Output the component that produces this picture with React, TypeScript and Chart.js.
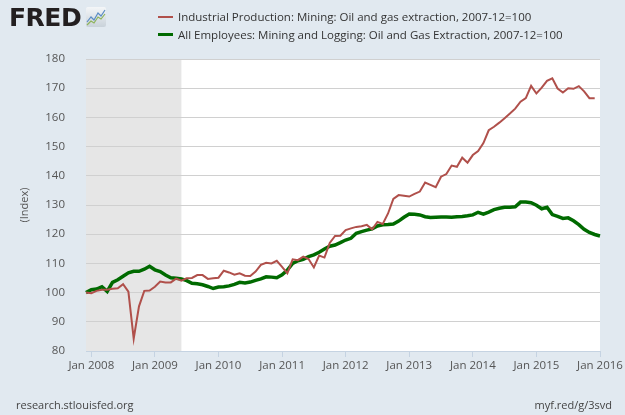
import React, { useEffect, useRef } from "react";
import { Chart, registerables } from "chart.js";

Chart.register(...registerables);

// ---- data ----
const startYear = 2007;
const startMonth = 12; // Dec 2007
const monthCount = 98; // Dec 2007 .. Jan 2016
const monthNames = ["Jan", "Feb", "Mar", "Apr", "May", "Jun", "Jul", "Aug", "Sep", "Oct", "Nov", "Dec"];

const months: string[] = [];
for (let i = 0; i < monthCount; i++) {
  const m0 = startMonth - 1 + i;
  const y = startYear + Math.floor(m0 / 12);
  const m = (m0 % 12) + 1;
  months.push(`${y}-${String(m).padStart(2, "0")}`);
}

const industrialProduction: (number | null)[] = [
  100.0,
  99.8, 100.6, 101.0, 101.0, 101.3, 101.5, 102.9, 100.3, 84.2, 95.3, 100.6, 100.7,
  102.0, 103.8, 103.5, 103.5, 104.8, 104.1, 104.9, 105.0, 106.0, 106.0, 104.7, 104.9,
  105.1, 107.5, 106.9, 106.1, 106.6, 105.8, 105.7, 107.2, 109.5, 110.2, 110.0, 110.9,
  108.8, 106.6, 111.4, 111.1, 112.3, 111.5, 108.6, 112.7, 112.0, 117.0, 119.4, 119.5,
  121.4, 122.0, 122.5, 122.7, 123.2, 121.7, 124.2, 123.5, 127.1, 132.1, 133.4, 133.2,
  132.9, 133.8, 134.6, 137.7, 136.9, 136.1, 139.7, 140.6, 143.5, 143.1, 146.2, 144.5,
  147.1, 148.5, 151.2, 155.6, 156.8, 158.2, 159.7, 161.3, 163.0, 165.4, 166.6, 170.8,
  168.2, 170.2, 172.5, 173.4, 169.9, 168.5, 170.0, 169.8, 170.7, 168.9, 166.6, 166.6,
  null,
];

const employees: number[] = [
  100.0,
  101.0, 101.2, 102.0, 100.4, 103.5, 104.4, 105.6, 106.8, 107.3, 107.3, 108.0, 109.0,
  107.8, 107.2, 106.0, 105.1, 104.9, 104.7, 104.1, 103.2, 103.0, 102.7, 102.1, 101.4,
  101.9, 102.0, 102.3, 102.8, 103.5, 103.3, 103.6, 104.2, 104.7, 105.4, 105.3, 105.1,
  106.1, 107.7, 110.0, 110.9, 111.4, 112.3, 112.9, 113.8, 114.9, 115.9, 116.3, 117.1,
  118.0, 118.6, 120.3, 120.9, 121.4, 121.8, 122.8, 123.2, 123.3, 123.5, 124.5, 125.8,
  126.9, 126.8, 126.6, 126.0, 125.7, 125.8, 125.9, 125.9, 125.8, 126.0, 126.1, 126.3,
  126.6, 127.5, 126.9, 127.6, 128.4, 128.9, 129.2, 129.2, 129.4, 131.0, 131.0, 130.8,
  129.9, 128.7, 129.2, 126.7, 126.1, 125.4, 125.6, 124.6, 123.3, 121.7, 120.6, 119.9,
  119.4,
];

const seriesNames = [
  "Industrial Production: Mining: Oil and gas extraction, 2007-12=100",
  "All Employees: Mining and Logging: Oil and Gas Extraction, 2007-12=100",
];
const seriesColors = ["#b0504b", "#006a00"];
const seriesWidths = [2, 3.5];

const recessionStart = "2007-12";
const recessionEnd = "2009-06";

const yMin = 80;
const yMax = 180;
const yStep = 10;
const yTitle = "(Index)";

const FONT = "'Open Sans', 'Noto Sans', sans-serif";
const BG = "#e1e9f0";

const plotPlugin = {
  id: "plotBg",
  beforeDraw(chart: any) {
    const { ctx, chartArea, scales } = chart;
    ctx.save();
    ctx.fillStyle = "#ffffff";
    ctx.fillRect(chartArea.left, chartArea.top, chartArea.right - chartArea.left, chartArea.bottom - chartArea.top);
    const x0 = scales.x.getPixelForValue(months.indexOf(recessionStart));
    const x1 = scales.x.getPixelForValue(months.indexOf(recessionEnd));
    ctx.fillStyle = "#e6e6e6";
    ctx.fillRect(x0, chartArea.top, x1 - x0, chartArea.bottom - chartArea.top);
    ctx.restore();
  },
};

function FredIcon() {
  return (
    <svg width="20" height="20" viewBox="0 0 20 20" style={{ position: "absolute", left: 86, top: 7 }}>
      <defs>
        <linearGradient id="fg" x1="0" y1="0" x2="0" y2="1">
          <stop offset="0" stopColor="#f4f6f8" />
          <stop offset="1" stopColor="#c9d2da" />
        </linearGradient>
      </defs>
      <rect x="0" y="0" width="20" height="20" rx="2" fill="url(#fg)" />
      <polyline points="1,15 5,10 8,13 12,6 15,9 19,3" fill="none" stroke="#5b8cc4" strokeWidth="1.2" />
      <polyline points="1,18 5,14 8,16 12,10 15,12 19,7" fill="none" stroke="#8db35a" strokeWidth="1.2" />
    </svg>
  );
}

export default function App() {
  const canvasRef = useRef<HTMLCanvasElement | null>(null);

  useEffect(() => {
    document.body.style.margin = "0";
    const canvas = canvasRef.current;
    if (!canvas) return;
    const chart = new Chart(canvas, {
      type: "line",
      data: {
        labels: months,
        datasets: [
          {
            label: seriesNames[0],
            data: industrialProduction,
            borderColor: seriesColors[0],
            borderWidth: seriesWidths[0],
            pointRadius: 0,
            tension: 0,
            spanGaps: false,
          },
          {
            label: seriesNames[1],
            data: employees,
            borderColor: seriesColors[1],
            borderWidth: seriesWidths[1],
            pointRadius: 0,
            tension: 0,
          },
        ],
      },
      options: {
        responsive: false,
        animation: false,
        events: [],
        layout: { padding: { top: 59, right: 25, bottom: 40, left: 0 } },
        plugins: { legend: { display: false }, tooltip: { enabled: false } },
        scales: {
          x: {
            type: "category",
            offset: false,
            afterFit(scale: any) {
              scale.height = 24;
            },
            grid: {
              display: true,
              drawOnChartArea: false,
              drawTicks: true,
              tickLength: 6,
              color: "#c5d3e2",
            },
            border: { display: true, color: "#c5d3e2" },
            ticks: {
              autoSkip: false,
              maxRotation: 0,
              minRotation: 0,
              padding: 2,
              color: "#555555",
              font: { family: FONT, size: 11.5 },
              callback: (_v: any, index: number) => {
                const s = months[index];
                const [y, m] = s.split("-");
                return m === "01" ? `${monthNames[0]} ${y}` : null;
              },
            },
          },
          y: {
            min: yMin,
            max: yMax,
            afterFit(scale: any) {
              scale.width = 86;
            },
            grid: { color: "#d0d0d0", lineWidth: 1, drawTicks: false },
            border: { display: false },
            ticks: {
              stepSize: yStep,
              padding: 21,
              color: "#555555",
              font: { family: FONT, size: 11.5 },
            },
            title: {
              display: true,
              text: yTitle,
              color: "#555555",
              font: { family: FONT, size: 11 },
              padding: { top: 18, bottom: 0 },
            },
          },
        },
      },
      plugins: [plotPlugin],
    } as any);
    return () => chart.destroy();
  }, []);

  const legendText: React.CSSProperties = {
    position: "absolute",
    left: 178,
    fontFamily: FONT,
    fontSize: 11.5,
    color: "#333333",
    whiteSpace: "nowrap",
    lineHeight: "14px",
  };

  return (
    <div style={{ position: "fixed", left: 0, top: 0, width: 625, height: 415, background: BG, overflow: "hidden" }}>
      <canvas ref={canvasRef} width={625} height={415} style={{ position: "absolute", left: 0, top: 0 }} />
      <div
        style={{
          position: "absolute",
          left: 9,
          top: 2,
          fontFamily: "'DejaVu Sans', sans-serif",
          fontWeight: 700,
          fontSize: 25,
          letterSpacing: -0.5,
          color: "#231f20",
          lineHeight: "32px",
        }}
      >
        FRED
      </div>
      <FredIcon />
      <div style={{ position: "absolute", left: 158, top: 16, width: 15, height: 2, background: seriesColors[0] }} />
      <div style={{ ...legendText, top: 10 }}>{seriesNames[0]}</div>
      <div style={{ position: "absolute", left: 158, top: 33, width: 15, height: 3, background: seriesColors[1] }} />
      <div style={{ ...legendText, top: 28 }}>{seriesNames[1]}</div>
      <div style={{ position: "absolute", left: 16, top: 398, fontFamily: FONT, fontSize: 11, color: "#444", lineHeight: "14px" }}>
        research.stlouisfed.org
      </div>
      <div style={{ position: "absolute", right: 13, top: 398, fontFamily: FONT, fontSize: 11, color: "#444", lineHeight: "14px" }}>
        myf.red/g/3svd
      </div>
    </div>
  );
}
